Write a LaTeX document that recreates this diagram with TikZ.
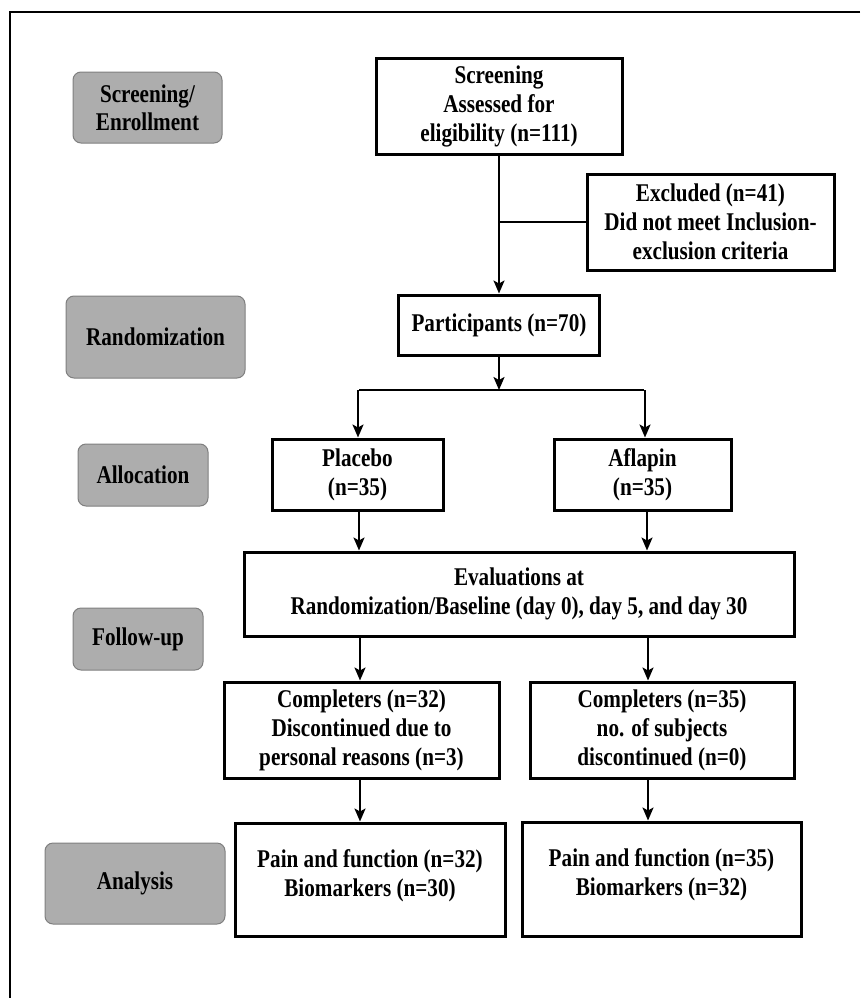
\documentclass[tikz,border=0pt]{standalone}
\usepackage{fontspec}
\setmainfont{Liberation Serif}[FakeStretch=0.83]
\usetikzlibrary{
positioning,%
calc,%
arrows.meta
}
\definecolor{phasefill}{HTML}{ADADAD}
\definecolor{phaseline}{HTML}{7F7F7F}
\tikzset{
    box/.style={draw, line width=3pt, fill=white, align=center, inner sep=2pt,
                font=\fontsize{25.5pt}{29pt}\selectfont\bfseries},
    phase/.style={draw=phaseline, line width=1pt, fill=phasefill, rounded corners=8pt,
                  align=center, inner sep=2pt, font=\fontsize{25.5pt}{28pt}\selectfont\bfseries},
    flow/.style={->, line width=2pt},
    link/.style={line width=2pt},
    frame/.style={line width=1.8pt}
}

\begin{document}
\begin{tikzpicture}[x=1pt, y=-1pt, >={Stealth[length=13pt, width=11pt, inset=3pt]}]
    \useasboundingbox (0,0) rectangle (860,998);
    \draw[frame] (860,12) -- (10,12) -- (10,998);
    % phases on the left
    \node[phase, minimum width=149pt, minimum height=71pt] (ph1) at (147.5,107.5) {Screening/\\Enrollment};
    \node[phase, minimum width=179pt, minimum height=82pt] (ph2) at (155.5,337) {Randomization};
    \node[phase, minimum width=130pt, minimum height=62pt] (ph3) at (143,475) {Allocation};
    \node[phase, minimum width=130pt, minimum height=62pt] (ph4) at (138,639) {Follow-up};
    \node[phase, minimum width=180pt, minimum height=81pt] (ph5) at (135,883.5) {Analysis};
    % main flow
    \node[box, minimum width=246pt, minimum height=95pt] (screen) at (499,106.5) {Screening\\Assessed for\\eligibility (n=111)};
    \node[box, minimum width=247pt, minimum height=96pt] (excl) at (710.5,222) {Excluded (n=41)\\Did not meet Inclusion-\\exclusion criteria};
    \node[box, minimum width=201pt, minimum height=60pt, below=138pt of screen] (part) {Participants (n=70)};
    \coordinate (split) at (499,390);
    \coordinate (splitL) at (359,390);
    \coordinate (splitR) at (644,390);
    \node[box, minimum width=171pt, minimum height=71pt] (placebo) at (357.5,474.5) {Placebo\\(n=35)};
    \node[box, minimum width=177pt, minimum height=71pt] (aflapin) at (642.5,474.5) {Aflapin\\(n=35)};
    \node[box, minimum width=550pt, minimum height=84pt] (eval) at (519,594) {Evaluations at\\Randomization/Baseline (day 0), day 5, and day 30};
    \node[box, minimum width=275pt, minimum height=96pt] (compL) at (361.5,730) {Completers (n=32)\\Discontinued due to\\personal reasons (n=3)};
    \node[box, minimum width=264pt, minimum height=96pt] (compR) at (662,730) {Completers (n=35)\\no. of subjects\\discontinued (n=0)};
    \node[box, minimum width=270pt, minimum height=113pt] (painL) at (370,879.5) {Pain and function (n=32)\\Biomarkers (n=30)\\[-16pt]};
    \node[box, minimum width=279pt, minimum height=114pt] (painR) at (661.5,879) {Pain and function (n=35)\\Biomarkers (n=32)\\[-16pt]};
    % connectors
    \draw[flow] (screen) -- (part);
    \draw[link] (screen.south |- excl.west) -- (excl.west);
    \draw[flow] (part) -- (split);
    \draw[link] (splitL) -- (splitR);
    \draw[flow] ([xshift=-1pt]splitL) -- ([xshift=-1pt]splitL |- placebo.north);
    \draw[flow] ([xshift=1pt]splitR) -- ([xshift=1pt]splitR |- aflapin.north);
    \draw[flow] (359,510) coordinate (pl) (placebo.south -| pl) -- (pl |- eval.north);
    \draw[flow] (647,510) coordinate (af) (aflapin.south -| af) -- (af |- eval.north);
    \draw[flow] (360,640) coordinate (fl) (eval.south -| fl) -- (fl |- compL.north);
    \draw[flow] (648,640) coordinate (fr) (eval.south -| fr) -- (fr |- compR.north);
    \draw[flow] (compL.south -| fl) -- (fl |- painL.north);
    \draw[flow] (compR.south -| fr) -- (fr |- painR.north);
\end{tikzpicture}
\end{document}
